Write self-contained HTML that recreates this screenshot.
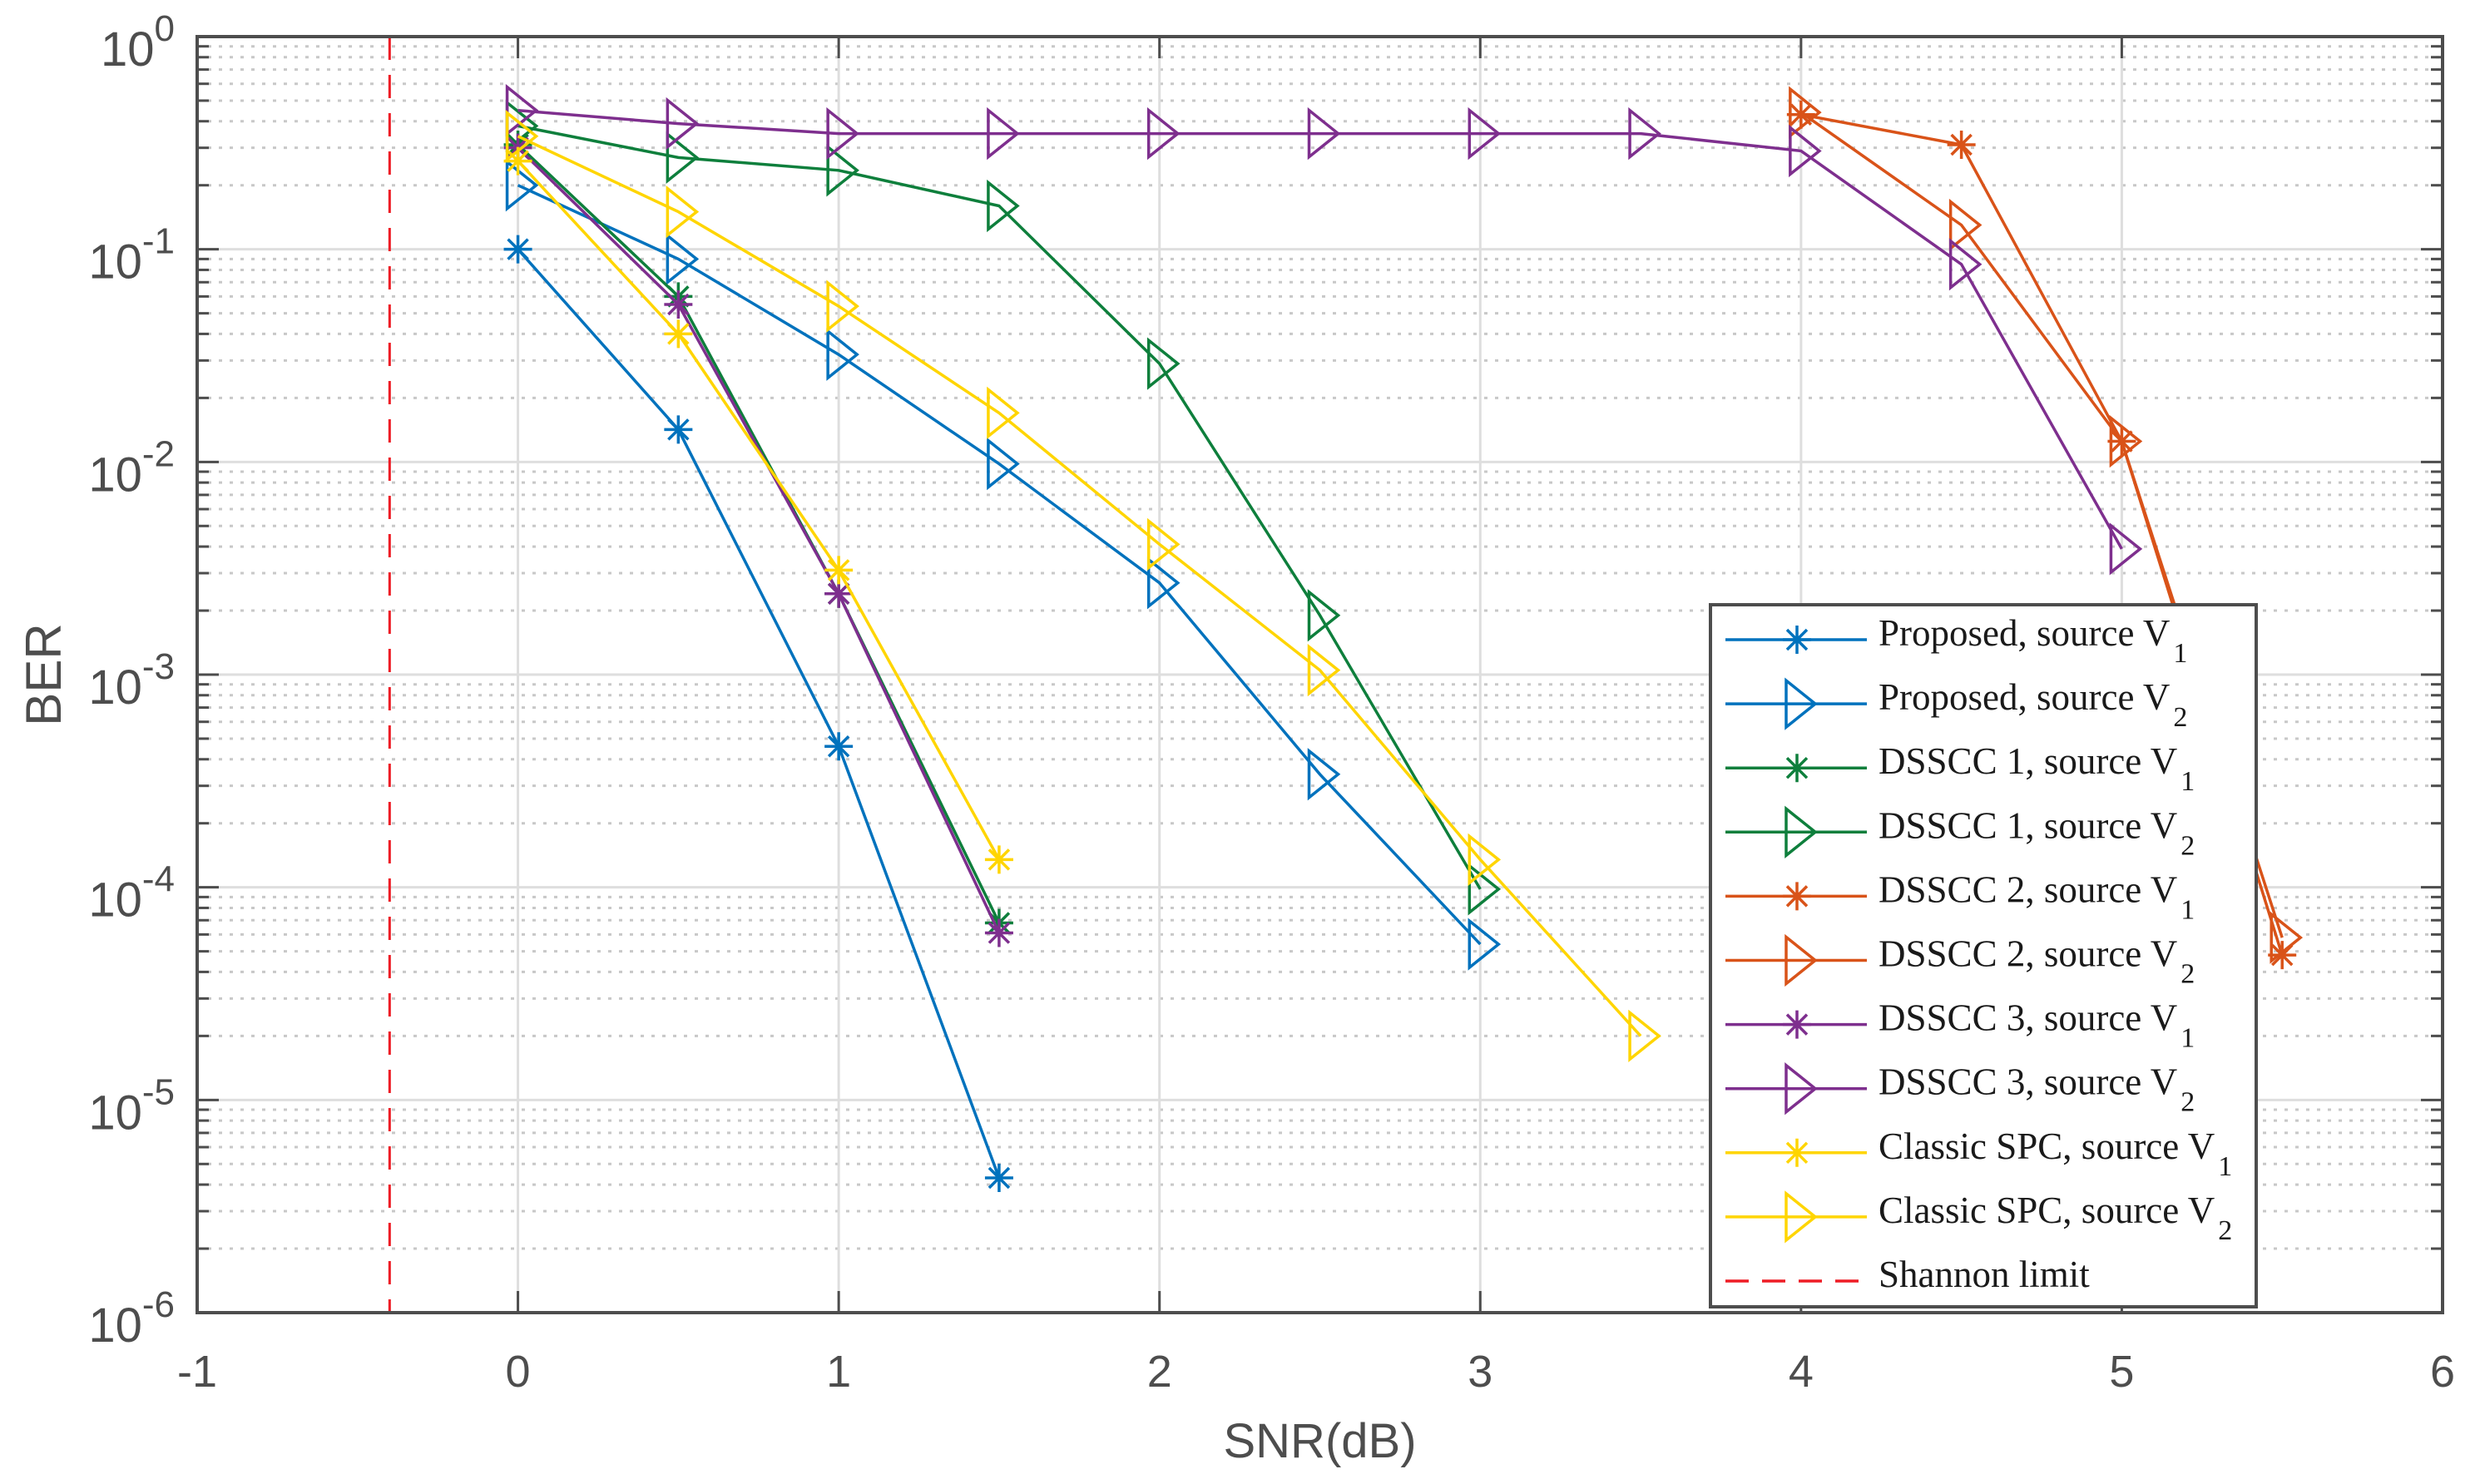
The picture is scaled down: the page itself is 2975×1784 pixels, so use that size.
<!DOCTYPE html>
<html><head><meta charset="utf-8"><style>
html,body{margin:0;padding:0;background:#fff;}
svg{display:block;}
</style></head><body>
<svg id="chart" width="2975" height="1784" viewBox="0 0 2975 1784" xmlns="http://www.w3.org/2000/svg">
<rect width="2975" height="1784" fill="#fff"/>
<g id="grid"></g>
<g id="series"></g>
<g id="axes"></g>
<g id="legend"></g>
</svg>
<script>
const xTicks = [-1,0,1,2,3,4,5,6];
const yExps = [0,-1,-2,-3,-4,-5,-6];
const shannonX = -0.4;
const seriesNames = ["Proposed, source V|1","Proposed, source V|2","DSSCC 1, source V|1","DSSCC 1, source V|2","DSSCC 2, source V|1","DSSCC 2, source V|2","DSSCC 3, source V|1","DSSCC 3, source V|2","Classic SPC, source V|1","Classic SPC, source V|2"];
const seriesColors = ["#0072BD","#0072BD","#0E7F3C","#0E7F3C","#D95319","#D95319","#7E2F8E","#7E2F8E","#FFD500","#FFD500"];
const seriesMarkers = ["star","tri","star","tri","star","tri","star","tri","star","tri"];
const propV1X = [0,0.5,1,1.5];
const propV1Y = [0.1,0.0142,4.6e-4,4.3e-6];
const propV2X = [0,0.5,1,1.5,2,2.5,3];
const propV2Y = [0.2,0.09,0.032,0.0098,0.0027,3.4e-4,5.4e-5];
const d1V1X = [0,0.5,1,1.5];
const d1V1Y = [0.31,0.06,0.0024,6.8e-5];
const d1V2X = [0,0.5,1,1.5,2,2.5,3];
const d1V2Y = [0.38,0.27,0.235,0.16,0.029,0.0019,9.8e-5];
const d2V1X = [4,4.5,5,5.5];
const d2V1Y = [0.43,0.31,0.0125,4.8e-5];
const d2V2X = [4,4.5,5,5.5];
const d2V2Y = [0.44,0.13,0.0125,5.8e-5];
const d3V1X = [0,0.5,1,1.5];
const d3V1Y = [0.3,0.055,0.0024,6.1e-5];
const d3V2X = [0,0.5,1,1.5,2,2.5,3,3.5,4,4.5,5];
const d3V2Y = [0.45,0.39,0.35,0.35,0.35,0.35,0.35,0.35,0.29,0.085,0.0039];
const cV1X = [0,0.5,1,1.5];
const cV1Y = [0.26,0.04,0.0031,1.35e-4];
const cV2X = [0,0.5,1,1.5,2,2.5,3,3.5];
const cV2Y = [0.34,0.15,0.054,0.017,0.0041,0.00105,1.35e-4,2.0e-5];
const allX = [propV1X,propV2X,d1V1X,d1V2X,d2V1X,d2V2X,d3V1X,d3V2X,cV1X,cV2X];
const allY = [propV1Y,propV2Y,d1V1Y,d1V2Y,d2V1Y,d2V2Y,d3V1Y,d3V2Y,cV1Y,cV2Y];

const L=237,R=2936,T=44,B=1578;
const NS="http://www.w3.org/2000/svg";
function sx(v){return L+(v-(-1))/7*(R-L);}
function sy(v){return T+(-Math.log10(v))/6*(B-T);}
function mk(tag,attrs,parent){const e=document.createElementNS(NS,tag);for(const k in attrs)e.setAttribute(k,attrs[k]);parent.appendChild(e);return e;}
const grid=document.getElementById('grid'),axes=document.getElementById('axes'),ser=document.getElementById('series'),leg=document.getElementById('legend');
const AX="#4d4d4d";
for(let d=0;d<6;d++){for(let m=2;m<=9;m++){const y=sy(m*Math.pow(10,-(d+1)));
 const g=mk('line',{x1:L,x2:R,y1:y,y2:y,stroke:'#c8c8c8','stroke-width':3,'stroke-dasharray':'4 9'},grid);
 
 
 const t1=mk('line',{x1:L,x2:L+14,y1:y,y2:y,stroke:AX,'stroke-width':3},axes);
 
 
 const t2=mk('line',{x1:R-14,x2:R,y1:y,y2:y,stroke:AX,'stroke-width':3},axes);
 
 
}}
yExps.forEach(e=>{const y=sy(Math.pow(10,e));
 const g=mk('line',{x1:L,x2:R,y1:y,y2:y,stroke:'#dedede','stroke-width':3},grid);
 
 
 const t1=mk('line',{x1:L,x2:L+26,y1:y,y2:y,stroke:AX,'stroke-width':3},axes);
 
 
 const t2=mk('line',{x1:R-26,x2:R,y1:y,y2:y,stroke:AX,'stroke-width':3},axes);
 
 
 const tx=mk('text',{x:210,y:y+35,'text-anchor':'end',fill:AX,'font-family':'"Liberation Sans", sans-serif','font-size':58},axes);
 
 
 tx.innerHTML='10<tspan dy="-30" font-size="44">'+(e===0?'0':e)+'</tspan>';
});
xTicks.forEach(v=>{const x=sx(v);
 if(v>-1&&v<6){const g=mk('line',{x1:x,x2:x,y1:T,y2:B,stroke:'#dedede','stroke-width':3},grid);
 
 }
 const t1=mk('line',{x1:x,x2:x,y1:B-26,y2:B,stroke:AX,'stroke-width':3},axes);
 
 
 const t2=mk('line',{x1:x,x2:x,y1:T,y2:T+26,stroke:AX,'stroke-width':3},axes);
 
 
 const tx=mk('text',{x:x,y:1667,'text-anchor':'middle',fill:AX,'font-family':'"Liberation Sans", sans-serif','font-size':54},axes);
 
 
 tx.textContent=String(v);
});
const frame=mk('rect',{x:L,y:T,width:R-L,height:B-T,fill:'none',stroke:AX,'stroke-width':4},axes);


const xl=mk('text',{x:(L+R)/2,y:1752,'text-anchor':'middle',fill:AX,'font-family':'"Liberation Sans", sans-serif','font-size':58},axes);


xl.textContent='SNR(dB)';
const yl=mk('text',{x:0,y:0,'text-anchor':'middle',fill:AX,'font-family':'"Liberation Sans", sans-serif','font-size':60,transform:'translate(73,811) rotate(-90)'},axes);


yl.textContent='BER';
const sl=mk('line',{x1:sx(shannonX),x2:sx(shannonX),y1:T,y2:B,stroke:'#EE1C25','stroke-width':3,'stroke-dasharray':'28 18'},ser);


function marker(type,x,y,c,parent){
 if(type==='star'){const r=17,d=12;
  return mk('path',{d:`M${x-r},${y}H${x+r}M${x},${y-r}V${y+r}M${x-d},${y-d}L${x+d},${y+d}M${x-d},${y+d}L${x+d},${y-d}`,stroke:c,'stroke-width':3.5,fill:'none'},parent);}
 else{return mk('path',{d:`M${x-13},${y-28}L${x+22},${y}L${x-13},${y+28}Z`,stroke:c,'stroke-width':3.5,fill:'none','stroke-linejoin':'miter'},parent);}
}
const slugs=['proposed-v1','proposed-v2','dsscc1-v1','dsscc1-v2','dsscc2-v1','dsscc2-v2','dsscc3-v1','dsscc3-v2','classic-v1','classic-v2'];
for(let i=0;i<10;i++){
 const g=mk('g',{},ser);
 
 
 const pts=allX[i].map((x,j)=>sx(x).toFixed(1)+','+sy(allY[i][j]).toFixed(1)).join(' ');
 const pl=mk('polyline',{points:pts,fill:'none',stroke:seriesColors[i],'stroke-width':3.5},g);
 
 
 allX[i].forEach((x,j)=>{const m=marker(seriesMarkers[i],sx(x),sy(allY[i][j]),seriesColors[i],g);
  
  });
}
const lb=mk('rect',{x:2056,y:727,width:656,height:844,fill:'#fff',stroke:AX,'stroke-width':4},leg);


for(let i=0;i<11;i++){
 const y=769+i*77.1;
 const g=mk('g',{},leg);
 
 
 const c=i<10?seriesColors[i]:'#EE1C25';
 const ln=mk('line',{x1:2074,x2:2244,y1:y,y2:y,stroke:c,'stroke-width':3.5},g);
 if(i===10)ln.setAttribute('stroke-dasharray','28 16');
 if(i<10)marker(seriesMarkers[i],2160,y,c,g);
 const t=mk('text',{x:2258,y:y+7,fill:'#1a1a1a','font-family':'"Liberation Serif", serif','font-size':45},g);
 if(i<10){const [a,b]=seriesNames[i].split('|');t.innerHTML=a+'<tspan dy="20" dx="4" font-size="34">'+b+'</tspan>';}
 else t.textContent='Shannon limit';
}
</script>
</body></html>
